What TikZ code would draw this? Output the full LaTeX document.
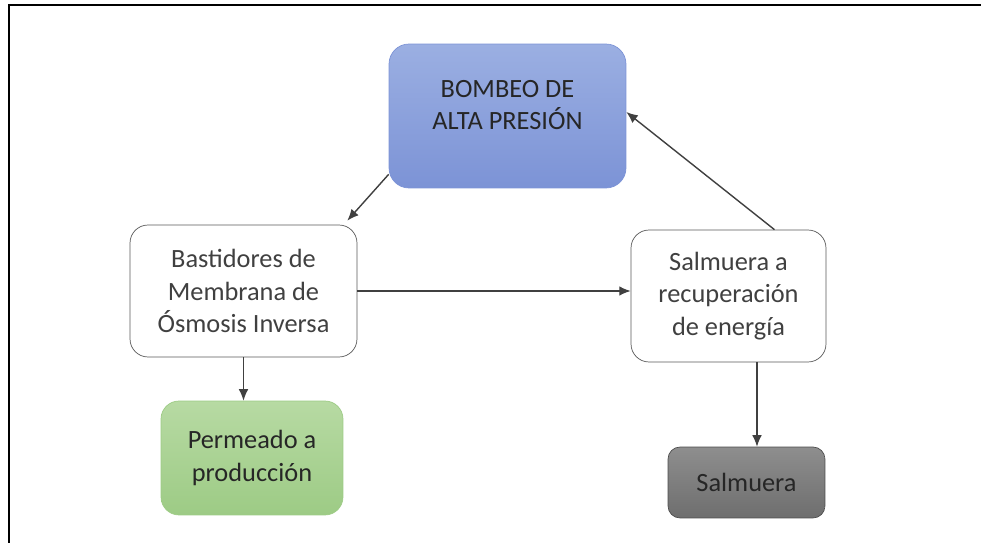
\documentclass[tikz,border=0pt]{standalone}
\usepackage{fontspec}
\setmainfont{Carlito}
\usepackage{tikz}
\usetikzlibrary{arrows.meta, calc, positioning, shadings}

\definecolor{bombTop}{HTML}{9BAFE2}
\definecolor{bombBot}{HTML}{7C93D6}
\definecolor{permTop}{HTML}{B7DAA3}
\definecolor{permBot}{HTML}{9DCB85}
\definecolor{salmTop}{HTML}{8E8E8E}
\definecolor{salmBot}{HTML}{6E6E6E}
\definecolor{lineGrey}{HTML}{404040}

\begin{document}
\begin{tikzpicture}[x=0.02cm, y=-0.02cm,
  box/.style={rounded corners=0.36cm, align=center, inner sep=2pt,
    font=\fontsize{15}{18.5}\selectfont},
  flow/.style={->, >={Latex[length=6.5pt,width=5.5pt]}, draw=lineGrey, line width=0.8pt}]
\useasboundingbox (0,0) rectangle (981,543);

% Frame
\draw[line width=1.4pt] (981,5) -- (9,5) -- (9,543);

% Boxes
\node[box, rounded corners=0.4cm, top color=bombTop, bottom color=bombBot, draw=bombBot,
  minimum width=4.74cm, minimum height=2.88cm, text=black!85, text depth=0.45cm]
  (bomb) at (507.5,116) {BOMBEO DE\\ALTA PRESIÓN};
\node[box, draw=black!65, fill=white, text=black!75,
  minimum width=4.54cm, minimum height=2.64cm]
  (bast) at (243.5,291) {Bastidores de\\Membrana de\\Ósmosis Inversa};
\node[box, draw=black!65, fill=white, text=black!75,
  minimum width=3.9cm, minimum height=2.64cm]
  (rec) at (728.5,296) {Salmuera a\\recuperación\\de energía};
\node[box, top color=permTop, bottom color=permBot, draw=permBot, text=black!85,
  minimum width=3.64cm, minimum height=2.28cm]
  (perm) at (252,458) {Permeado a\\producción};
\node[box, rounded corners=0.24cm, top color=salmTop, bottom color=salmBot, draw=black!70,
  text=black!85, minimum width=3.14cm, minimum height=1.42cm]
  (salm) at (746.5,482.5) {Salmuera};

% Draw flows
\draw[flow] ([yshift=0.28cm]bomb.south west) -- ([xshift=-0.2cm, yshift=0.08cm]bast.north east);
\draw[flow] (bast.east) -- (bast.east -| rec.west);
\draw[flow] ([xshift=0.92cm]rec.north) -- ([yshift=0.08cm]bomb.east);
\draw[flow] (bast.south) -- (bast.south |- perm.north);
\draw[flow] ([xshift=0.57cm]rec.south) -- ([xshift=0.57cm]rec.south |- salm.north);

\end{tikzpicture}
\end{document}
